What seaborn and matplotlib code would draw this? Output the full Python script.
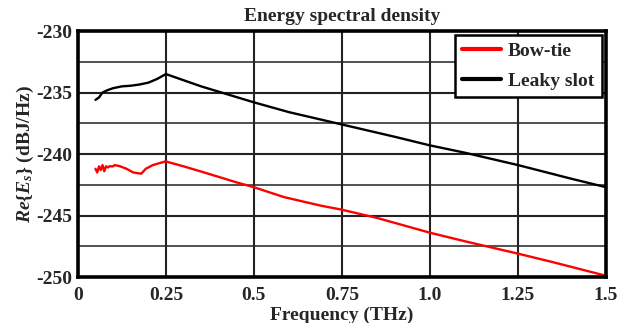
import numpy as np
import pandas as pd
import seaborn as sns
import matplotlib
matplotlib.use("Agg")
import matplotlib.pyplot as plt
from matplotlib.ticker import MultipleLocator

# values
bowtie_freq = [0.05, 0.055, 0.06, 0.065, 0.07, 0.075, 0.08, 0.085, 0.09, 0.1, 0.105, 0.12,
               0.138, 0.157, 0.18, 0.193, 0.213, 0.249, 0.3, 0.347, 0.393, 0.45, 0.5,
               0.585, 0.63, 0.69, 0.745, 0.85, 1.0, 1.1, 1.25, 1.35, 1.5]
bowtie_esd = [-241.2, -241.5, -241.0, -241.3, -240.9, -241.4, -241.0, -241.1, -241.0, -241.0, -240.9, -241.0,
              -241.2, -241.5, -241.6, -241.2, -240.9, -240.6, -241.0, -241.4, -241.8, -242.3, -242.7,
              -243.5, -243.8, -244.2, -244.5, -245.2, -246.4, -247.1, -248.1, -248.8, -249.9]

slot_freq = [0.05, 0.06, 0.07, 0.085, 0.1, 0.125, 0.15, 0.175, 0.2, 0.225, 0.25,
             0.35, 0.5, 0.6, 0.75, 0.9, 1.0, 1.1, 1.25, 1.4, 1.5]
slot_esd = [-235.6, -235.4, -235.0, -234.8, -234.65, -234.5, -234.45, -234.35, -234.2, -233.9, -233.5,
            -234.5, -235.8, -236.6, -237.6, -238.6, -239.3, -239.9, -240.9, -242.0, -242.7]

series_names = ["Bow-tie", "Leaky slot"]
series_colors = ["#ff0000", "#000000"]

x_ticks = [0, 0.25, 0.5, 0.75, 1.0, 1.25, 1.5]
x_ticklabels = ["0", "0.25", "0.5", "0.75", "1.0", "1.25", "1.5"]
y_ticks = [-250, -245, -240, -235, -230]

df = pd.concat([
    pd.DataFrame({"freq": bowtie_freq, "esd": bowtie_esd, "antenna": series_names[0]}),
    pd.DataFrame({"freq": slot_freq, "esd": slot_esd, "antenna": series_names[1]}),
])

sns.set_style("white")
plt.rcParams["font.family"] = ["Liberation Serif", "DejaVu Serif"]
plt.rcParams["font.weight"] = "bold"
plt.rcParams["mathtext.fontset"] = "custom"
plt.rcParams["mathtext.rm"] = "Liberation Serif:bold"
plt.rcParams["mathtext.it"] = "Liberation Serif:bold:italic"
plt.rcParams["mathtext.bf"] = "Liberation Serif:bold"

fig = plt.figure(figsize=(6.28, 3.23), dpi=100)
ax = fig.add_axes([0.124, 0.1424, 0.841, 0.7616])

sns.lineplot(data=df, x="freq", y="esd", hue="antenna", palette=series_colors,
             hue_order=series_names, linewidth=1.7, sort=False, estimator=None, ax=ax)

ax.set_xlim(0, 1.5)
ax.set_ylim(-250, -230)
ax.set_xticks(x_ticks)
ax.set_xticklabels(x_ticklabels)
ax.set_yticks(y_ticks)
ax.set_yticklabels([str(v) for v in y_ticks])
ax.yaxis.set_minor_locator(MultipleLocator(2.5))

ax.grid(True, which="major", color="#222222", linewidth=1.5)
ax.grid(True, which="minor", axis="y", color="#222222", linewidth=1.1)
ax.set_axisbelow(True)
ax.tick_params(which="both", length=0, labelsize=14)
ax.tick_params(axis="y", pad=4)
ax.tick_params(axis="x", pad=7)
for lbl in ax.get_xticklabels() + ax.get_yticklabels():
    lbl.set_fontweight("bold")

for side in ["left", "bottom", "right", "top"]:
    ax.spines[side].set_visible(True)
    ax.spines[side].set_color("black")
    ax.spines[side].set_linewidth(2.6)

ax.set_title("Energy spectral density", fontsize=14, fontweight="bold", pad=7)
ax.set_xlabel("Frequency (THz)", fontsize=14, fontweight="bold", labelpad=2)
ax.set_ylabel(r"$Re\{E_s\}$ (dBJ/Hz)", fontsize=14, fontweight="bold", labelpad=0)

handles, labels = ax.get_legend_handles_labels()
for h in handles:
    h.set_linewidth(3.0)
leg = ax.legend(handles, labels, loc="upper right", fontsize=14, frameon=True,
                fancybox=False, edgecolor="black", framealpha=1, borderaxespad=0.2,
                handlelength=2.0, handletextpad=0.35, borderpad=0.4, labelspacing=0.6)
leg.get_frame().set_linewidth(1.8)
for t in leg.get_texts():
    t.set_fontweight("bold")

fig.savefig("out.png", dpi=100)
